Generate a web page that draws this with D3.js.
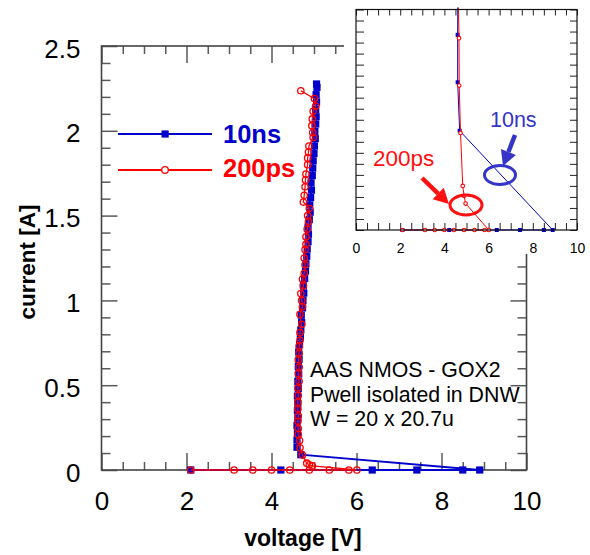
<!DOCTYPE html>
<html>
<head>
<meta charset="utf-8">
<script src="https://cdn.jsdelivr.net/npm/d3@7"></script>
<style>
  html, body { margin: 0; padding: 0; background: #fff; }
  svg { display: block; font-family: "Liberation Sans", Arial, sans-serif; }
</style>
</head>
<body>
<svg id="chart" width="590" height="555"></svg>
<script>
// TLP I-V measurement, two pulse widths: [voltage V, current A] in measurement order
const series10ns = [
  [2.1, 0], [4.22, 0], [6.37, 0], [7.42, 0], [8.5, 0], [8.9, 0],
  [4.69, 0.09], [4.60, 0.134], [4.60, 0.177], [4.61, 0.22], [4.60, 0.263],
  [4.62, 0.306], [4.61, 0.35], [4.62, 0.393], [4.61, 0.436], [4.63, 0.48],
  [4.62, 0.523], [4.64, 0.566], [4.63, 0.61], [4.65, 0.653], [4.64, 0.696],
  [4.66, 0.74], [4.68, 0.783], [4.69, 0.826], [4.71, 0.87], [4.70, 0.913],
  [4.73, 0.956], [4.74, 1.0], [4.76, 1.043], [4.75, 1.086], [4.78, 1.13],
  [4.80, 1.173], [4.81, 1.216], [4.83, 1.26], [4.84, 1.303], [4.86, 1.346],
  [4.87, 1.39], [4.86, 1.433], [4.89, 1.476], [4.91, 1.52], [4.90, 1.563],
  [4.92, 1.606], [4.94, 1.65], [4.93, 1.693], [4.96, 1.736], [4.97, 1.78],
  [4.98, 1.823], [5.00, 1.866], [5.01, 1.91], [5.03, 1.953], [5.02, 1.996],
  [5.04, 2.04], [5.05, 2.083], [5.04, 2.126], [5.06, 2.17], [5.05, 2.213],
  [5.07, 2.256], [5.06, 2.276]
];
const series200ps = [
  [2.1, 0], [3.12, 0], [3.56, 0], [4.0, 0], [4.43, 0], [4.89, 0], [5.36, 0],
  [5.82, 0], [6.01, 0],
  [4.96, 0.024], [4.89, 0.031], [4.83, 0.04], [4.73, 0.088], [4.67, 0.131],
  [4.66, 0.174], [4.63, 0.21], [4.63, 0.244], [4.62, 0.287], [4.63, 0.32],
  [4.62, 0.36], [4.62, 0.40], [4.63, 0.44], [4.62, 0.483], [4.65, 0.523],
  [4.63, 0.568], [4.65, 0.607], [4.63, 0.65], [4.65, 0.69], [4.65, 0.73],
  [4.67, 0.765], [4.67, 0.81], [4.71, 0.859], [4.67, 0.918], [4.73, 0.963],
  [4.71, 1.0], [4.69, 1.04], [4.75, 1.087], [4.73, 1.126], [4.77, 1.16],
  [4.79, 1.21], [4.77, 1.25], [4.79, 1.30], [4.81, 1.33], [4.81, 1.375],
  [4.84, 1.42], [4.87, 1.464], [4.85, 1.50], [4.89, 1.543], [4.75, 1.58],
  [4.77, 1.62], [4.79, 1.67], [4.80, 1.71], [4.81, 1.745], [4.85, 1.80],
  [4.85, 1.84], [4.87, 1.875], [4.88, 1.91], [4.98, 1.96], [4.97, 1.99],
  [4.95, 2.03], [4.96, 2.07], [4.98, 2.115], [5.04, 2.146], [5.01, 2.19],
  [4.69, 2.236]
];
const seriesNames = ["10ns", "200ps"];
const xTickLabels = [0, 2, 4, 6, 8, 10];
const yTickLabels = [0, 0.5, 1, 1.5, 2, 2.5];
const insetXTickLabels = [0, 2, 4, 6, 8, 10];
const noteLines = ["AAS NMOS - GOX2", "Pwell isolated in DNW", "W = 20 x 20.7u"];

const BLUE = "#0000cc", RED = "#ff0000";
const svg = d3.select("#chart");

// ---------- main plot ----------
const x = d3.scaleLinear().domain([0, 10]).range([101.5, 526.5]);
const y = d3.scaleLinear().domain([0, 2.5]).range([470, 46]);
const xMinor = d3.range(0, 10.001, 0.5).filter(v => v % 2 !== 0);
const yMinor = d3.range(0, 2.5001, 0.1).filter(v => Math.abs(v * 2 - Math.round(v * 2)) > 1e-6);

function styleAxis(g) {
  g.select(".domain").remove();
  g.selectAll(".tick line").attr("stroke", "#5a5a5a").attr("stroke-width", 1.5);
  g.selectAll(".tick text").attr("fill", "#000").attr("font-size", 26)
    .attr("font-family", "'Liberation Sans', Arial, sans-serif");
}

const axes = svg.append("g");
// bottom
axes.append("g").attr("transform", `translate(0,${y(0)})`)
  .call(d3.axisBottom(x).tickValues(xTickLabels).tickSize(-17).tickSizeOuter(0).tickPadding(22))
  .call(styleAxis);
axes.append("g").attr("transform", `translate(0,${y(0)})`)
  .call(d3.axisBottom(x).tickValues(xMinor).tickSize(-8).tickSizeOuter(0).tickFormat(""))
  .call(styleAxis);
// top
axes.append("g").attr("transform", `translate(0,${y(2.5)})`)
  .call(d3.axisTop(x).tickValues(xTickLabels).tickSize(-17).tickSizeOuter(0).tickFormat(""))
  .call(styleAxis);
axes.append("g").attr("transform", `translate(0,${y(2.5)})`)
  .call(d3.axisTop(x).tickValues(xMinor).tickSize(-8).tickSizeOuter(0).tickFormat(""))
  .call(styleAxis);
// left
axes.append("g").attr("transform", `translate(${x(0)},0)`)
  .call(d3.axisLeft(y).tickValues(yTickLabels).tickSize(-16).tickSizeOuter(0).tickPadding(21)
    .tickFormat(d3.format("")))
  .call(styleAxis)
  .call(g => g.selectAll(".tick text").attr("dy", "0.43em"));
axes.append("g").attr("transform", `translate(${x(0)},0)`)
  .call(d3.axisLeft(y).tickValues(yMinor).tickSize(-9).tickSizeOuter(0).tickFormat(""))
  .call(styleAxis);
// right
axes.append("g").attr("transform", `translate(${x(10)},0)`)
  .call(d3.axisRight(y).tickValues(yTickLabels).tickSize(-16).tickSizeOuter(0).tickFormat(""))
  .call(styleAxis);
axes.append("g").attr("transform", `translate(${x(10)},0)`)
  .call(d3.axisRight(y).tickValues(yMinor).tickSize(-9).tickSizeOuter(0).tickFormat(""))
  .call(styleAxis);

// plot frame
const frameG = svg.append("g");
frameG.append("rect")
  .attr("x", x(0)).attr("y", y(2.5))
  .attr("width", x(10) - x(0)).attr("height", y(0) - y(2.5))
  .attr("fill", "none").attr("stroke", "#444").attr("stroke-width", 1.6);

// axis titles
svg.append("text").attr("x", 303).attr("y", 546).attr("text-anchor", "middle")
  .attr("font-size", 23).attr("font-weight", "bold").text("voltage [V]");
svg.append("text").attr("transform", "translate(35,262) rotate(-90)").attr("text-anchor", "middle")
  .attr("font-size", 22.5).attr("font-weight", "bold").text("current [A]");

// data
const line = d3.line().x(d => x(d[0])).y(d => y(d[1]));
const dataG = svg.append("g");
dataG.append("path").datum(series10ns).attr("d", line)
  .attr("fill", "none").attr("stroke", BLUE).attr("stroke-width", 1.8);
dataG.selectAll(".sq").data(series10ns).join("rect")
  .attr("x", d => x(d[0]) - 3.6).attr("y", d => y(d[1]) - 3.6)
  .attr("width", 7.2).attr("height", 7.2).attr("fill", BLUE);
dataG.append("path").datum(series200ps).attr("d", line)
  .attr("fill", "none").attr("stroke", RED).attr("stroke-width", 1.3);
dataG.selectAll(".ci").data(series200ps).join("circle")
  .attr("cx", d => x(d[0])).attr("cy", d => y(d[1])).attr("r", 3.2)
  .attr("fill", "none").attr("stroke", RED).attr("stroke-width", 1.3);

// legend
const legend = svg.append("g");
const legendRows = [
  { name: seriesNames[0], color: BLUE, y: 134, marker: "square", baseline: 143 },
  { name: seriesNames[1], color: RED, y: 170, marker: "circle", baseline: 177 }
];
legendRows.forEach(r => {
  legend.append("line").attr("x1", 118).attr("x2", 212).attr("y1", r.y).attr("y2", r.y)
    .attr("stroke", r.color).attr("stroke-width", 2);
  if (r.marker === "square") {
    legend.append("rect").attr("x", 161.5).attr("y", r.y - 3.6).attr("width", 7.2).attr("height", 7.2)
      .attr("fill", r.color);
  } else {
    legend.append("circle").attr("cx", 165).attr("cy", r.y).attr("r", 3.3)
      .attr("fill", "#fff").attr("stroke", r.color).attr("stroke-width", 1.3);
  }
  legend.append("text").attr("x", 223).attr("y", r.baseline).attr("font-size", 25.5)
    .attr("font-weight", "bold").attr("fill", r.color).text(r.name);
});

// device note
svg.append("g").selectAll("text").data(noteLines).join("text")
  .attr("x", 310).attr("y", (d, i) => 377 + i * 24.5)
  .attr("font-size", 21.3).attr("fill", "#000").text(d => d);

// ---------- inset: zoom on the low-current region ----------
const inset = svg.append("g");
inset.append("rect").attr("x", 344).attr("y", 0).attr("width", 246).attr("height", 254).attr("fill", "#fff");
const ix = d3.scaleLinear().domain([0, 10]).range([356, 577]);
const iy = d3.scaleLinear().domain([0, 0.2]).range([230, 9.5]);

function styleInset(g) {
  g.select(".domain").remove();
  g.selectAll(".tick line").attr("stroke", "#222").attr("stroke-width", 1);
  g.selectAll(".tick text").attr("fill", "#000").attr("font-size", 14)
    .attr("font-family", "'Liberation Sans', Arial, sans-serif");
}
const ixTicks = d3.range(0, 10.001, 0.5);
const iyTicks = d3.range(0, 0.2001, 0.01);
inset.append("g").attr("transform", `translate(0,${iy(0)})`)
  .call(d3.axisBottom(ix).tickValues(ixTicks).tickSize(-7).tickSizeOuter(0).tickPadding(13)
    .tickFormat(d => insetXTickLabels.includes(d) ? d : ""))
  .call(styleInset);
inset.append("g").attr("transform", `translate(0,${iy(0.2)})`)
  .call(d3.axisTop(ix).tickValues(ixTicks).tickSize(-6).tickSizeOuter(0).tickFormat(""))
  .call(styleInset);
inset.append("g").attr("transform", `translate(${ix(0)},0)`)
  .call(d3.axisLeft(iy).tickValues(iyTicks).tickSize(-8).tickSizeOuter(0).tickFormat(""))
  .call(styleInset);
inset.append("g").attr("transform", `translate(${ix(10)},0)`)
  .call(d3.axisRight(iy).tickValues(iyTicks).tickSize(-7).tickSizeOuter(0).tickFormat(""))
  .call(styleInset);

svg.append("defs").append("clipPath").attr("id", "insetClip")
  .append("rect").attr("x", ix(0)).attr("y", iy(0.2) - 2)
  .attr("width", ix(10) - ix(0)).attr("height", iy(0) - iy(0.2) + 6);

const iline = d3.line().x(d => ix(d[0])).y(d => iy(d[1]));
const insetData = inset.append("g").attr("clip-path", "url(#insetClip)");
insetData.append("path").datum(series10ns).attr("d", iline)
  .attr("fill", "none").attr("stroke", BLUE).attr("stroke-width", 1);
insetData.selectAll(".isq").data(series10ns).join("rect")
  .attr("x", d => ix(d[0]) - 2).attr("y", d => iy(d[1]) - 2)
  .attr("width", 4).attr("height", 4).attr("fill", BLUE);
insetData.append("path").datum(series200ps).attr("d", iline)
  .attr("fill", "none").attr("stroke", RED).attr("stroke-width", 1);
insetData.selectAll(".ici").data(series200ps).join("circle")
  .attr("cx", d => ix(d[0])).attr("cy", d => iy(d[1])).attr("r", 1.8)
  .attr("fill", "#fff").attr("stroke", RED).attr("stroke-width", 1.1);

inset.append("rect").attr("x", ix(0)).attr("y", iy(0.2))
  .attr("width", ix(10) - ix(0)).attr("height", iy(0) - iy(0.2))
  .attr("fill", "none").attr("stroke", "#111").attr("stroke-width", 1.2);

// callouts: ellipses and arrows marking each pulse width's turn-on
const IBLUE = "#3434c8", IRED = "#ff1010";
function arrow(g, x1, y1, x2, y2, color) {
  const ang = Math.atan2(y2 - y1, x2 - x1);
  const hl = 15, hw = 8;
  const bx = x2 - hl * Math.cos(ang), by = y2 - hl * Math.sin(ang);
  g.append("line").attr("x1", x1).attr("y1", y1).attr("x2", bx).attr("y2", by)
    .attr("stroke", color).attr("stroke-width", 4.5);
  const px = -Math.sin(ang) * hw, py = Math.cos(ang) * hw;
  g.append("path")
    .attr("d", `M${x2},${y2}L${bx + px},${by + py}L${bx - px},${by - py}Z`)
    .attr("fill", color);
}
inset.append("text").attr("x", 490).attr("y", 127).attr("font-size", 21.5).attr("fill", IBLUE).text(seriesNames[0]);
inset.append("ellipse").attr("cx", 500).attr("cy", 175).attr("rx", 15.5).attr("ry", 9.5)
  .attr("fill", "none").attr("stroke", IBLUE).attr("stroke-width", 3);
arrow(inset, 515, 135, 503, 166, IBLUE);

inset.append("text").attr("x", 373).attr("y", 166).attr("font-size", 22.5).attr("fill", IRED).text(seriesNames[1]);
inset.append("ellipse").attr("cx", 466).attr("cy", 205).attr("rx", 16).attr("ry", 10)
  .attr("fill", "none").attr("stroke", IRED).attr("stroke-width", 3);
arrow(inset, 422, 178, 449, 204, IRED);
</script>
</body>
</html>
